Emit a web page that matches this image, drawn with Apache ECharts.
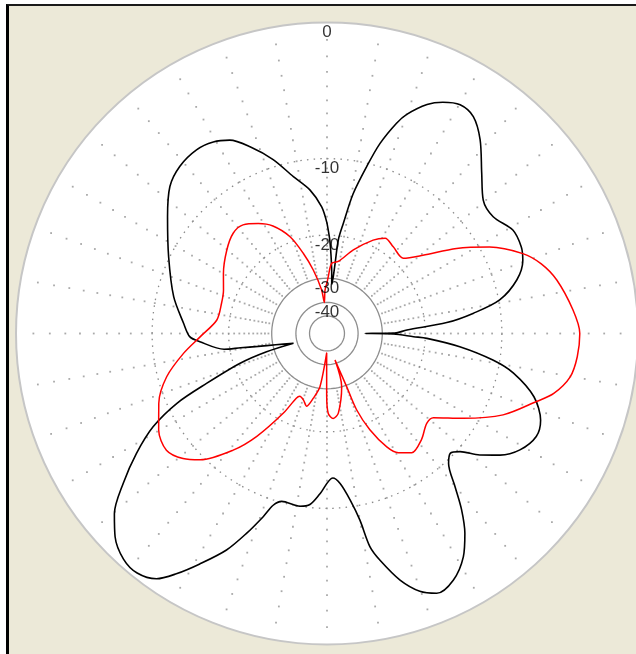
<!DOCTYPE html>
<html>
<head>
<meta charset="utf-8">
<script src="https://cdn.jsdelivr.net/npm/echarts@6/dist/echarts.min.js"></script>
<style>
  html, body { margin: 0; padding: 0; background: #fff; }
  #frame {
    position: absolute; left: 6px; top: 4px; width: 630px; height: 650px;
    box-sizing: border-box; border-left: 3px solid #000; border-top: 2px solid #1a1a1a;
    background: #ece9d8;
  }
  #chart { position: absolute; left: 0; top: 0; width: 636px; height: 654px; }
</style>
</head>
<body>
<div id="frame"></div>
<div id="chart"></div>
<script>
// pattern values in dB, angle in degrees (0 = top, clockwise)
const blackAngles = [0, 1.5, 2.5, 3.5, 4.5, 5.5, 6.3, 6.6, 6.9, 8.4, 10.6, 13.4, 15.6, 18.3, 20, 23.6, 26.6, 30.2, 34, 38.3,
  44, 49.5, 54.9, 60.9, 66, 69.5, 74.2, 79, 82.1, 84.8, 87.5, 89.7, 90, 90.4, 92.1, 92.8, 95.7, 99.1, 102, 107,
  112.1, 116.2, 121.1, 125.1, 128.5, 131.6, 134.2, 136.9, 140.1, 142.6, 145.4, 148.6, 152.9, 157.1, 160.2, 163.5, 166.8, 168.6, 170, 172.1,
  175, 177.7, 182.5, 185.7, 188.9, 195.1, 197.4, 199.2, 201.9, 204.9, 208.9, 212.1, 214.8, 218.4, 222, 226.2, 229.7, 233.7, 237.8, 241.8,
  245.1, 247.5, 251.1, 253.2, 253.8, 257.6, 259.4, 260.6, 261.3, 266.3, 268.7, 274.1, 283.5, 295.8, 306.1, 313.1, 318.6, 324.6, 329.3, 333.3,
  337.6, 342.8, 347.9, 353.2, 357.6]
const blackDb = [-18, -20.5, -22.8, -25.5, -28.5, -32, -29.4, -25.7, -20.7, -17.9, -13.6, -10.3, -7.9, -5.9, -5.0, -3.8, -3.2, -2.8, -3.0, -4.0,
  -5.8, -7.2, -7.4, -6.6, -6.6, -6.9, -7.9, -9.9, -12.9, -16.5, -23.6, -26.5, -36.5, -26.8, -22.2, -19.7, -14.7, -10.7, -8.5, -6.3,
  -5.2, -5.0, -5.6, -6.7, -8.1, -9.7, -10.3, -9.7, -7.7, -5.9, -4.3, -3.0, -2.0, -1.7, -2.2, -3.3, -5.0, -6.2, -8.6, -10.7,
  -12.6, -13.3, -11.5, -10.3, -10.0, -10.1, -9.5, -8.2, -6.4, -4.6, -2.9, -1.6, -0.7, -0.3, -0.4, -1.0, -1.9, -3.6, -5.6, -7.9,
  -11.0, -15.1, -21.2, -27.7, -38, -30.9, -25.9, -22, -19, -15.5, -14.2, -13.4, -11.8, -9.9, -7.9, -6.4, -5.8, -5.6, -5.8, -6.3,
  -7.5, -9.3, -11.5, -13.3, -15.6]

const redAngles = [0, 1.3, 3.8, 8.9, 17.5, 26.3, 31.4, 37.4, 45.4, 50.8, 56.7, 62, 67.8, 72, 76.9, 84.5, 90, 95.3, 100.1, 104.8,
  108, 114.8, 121.9, 128.3, 132, 138.4, 144.6, 149.1, 152.2, 156, 158.8, 159.7, 163.2, 164.6, 171.9, 175.8, 179.1, 180.3, 181, 187.5,
  191.9, 195.6, 199.6, 203.4, 205.4, 208.7, 214.3, 218.8, 225.1, 229, 234, 240.2, 247.5, 254.9, 262.2, 268.6, 277, 286, 292.8, 300,
  309.8, 316.9, 322.3, 328, 333.3, 339.1, 343.5, 347.8, 353, 355, 357.4]
const redDb = [-31.5, -29.5, -25.8, -25.2, -22.0, -19.0, -17.8, -18.2, -18.5, -16.0, -12.1, -9.1, -6.7, -5.6, -4.8, -4.0, -3.6, -3.7, -4.0, -4.9,
  -6.0, -8.2, -11.5, -14.4, -14.6, -13.6, -13.1, -14.0, -15.4, -18.8, -23.2, -29.6, -42, -30.0, -23.5, -22.5, -23.6, -28, -48, -30.6,
  -26.9, -24.6, -25.8, -26.3, -25.5, -21.4, -15.9, -12.7, -9.6, -8.5, -7.8, -8.2, -9.3, -10.9, -13.3, -15.6, -17.9, -18.1, -17.7, -16.6,
  -15.1, -14.2, -14.2, -15.2, -16.5, -19.1, -22.8, -27.2, -34, -40, -34.2]

const solidRings = [-50, -40, -30]
const dottedRings = [-20, -10]
const ringLabels = [0, -10, -20, -30, -40]
const spokeDb = [-29, -28, -27, -26, -25, -24, -23, -22, -21, -20, -19, -18, -17, -16, -15,
  -14, -13, -12, -11, -10, -9, -8, -7, -6, -5, -4, -3, -2, -1]
const spokeAngles = [0, 10, 20, 30, 40, 50, 60, 70, 80, 90, 100, 110, 120, 130, 140, 150, 160, 170,
  180, 190, 200, 210, 220, 230, 240, 250, 260, 270, 280, 290, 300, 310, 320, 330, 340, 350]

// radius scale: r grows with 10^(dB/40)
function toR(db) {
  return Math.pow(10, db / 40)
}

function pattern(angles, dbs) {
  const pts = angles.map((a, i) => [toR(dbs[i]), a])
  pts.push([toR(dbs[0]), angles[0] + 360])
  return pts
}

// angles used to trace the grid circles
const ringAngles = []
for (let a = 0; a <= 360; a += 2) ringAngles.push(a)

function ringSeries(db, lineStyle) {
  return {
    type: 'line',
    coordinateSystem: 'polar',
    silent: true,
    showSymbol: false,
    lineStyle,
    z: 1,
    data: ringAngles.map((a) => [toR(db), a])
  }
}

const spokeDots = []
spokeAngles.forEach((a) => spokeDb.forEach((db) => spokeDots.push([toR(db), a])))

const chart = echarts.init(document.getElementById('chart'))
chart.setOption({
  animation: false,
  polar: { center: [327, 333.5], radius: 311 },
  angleAxis: {
    type: 'value',
    min: 0,
    max: 360,
    interval: 10,
    startAngle: 90,
    clockwise: true,
    axisLine: { lineStyle: { color: '#c6c6c6', width: 2 } },
    axisTick: { show: false },
    axisLabel: { show: false },
    splitLine: { show: false },
    splitArea: { show: true, areaStyle: { color: ['#ffffff'] } }
  },
  radiusAxis: {
    type: 'value',
    min: 0,
    max: 1,
    axisLine: { show: false },
    axisTick: { show: false },
    axisLabel: { show: false },
    splitLine: { show: false }
  },
  series: [
    ...solidRings.map((db) => ringSeries(db, { color: '#8e8e8e', width: 1.3 })),
    ...dottedRings.map((db) => ringSeries(db, { color: '#8a8a8a', width: 1.3, type: [1.5, 5.2] })),
    {
      type: 'scatter',
      coordinateSystem: 'polar',
      silent: true,
      symbol: 'rect',
      symbolSize: 1.8,
      z: 1,
      itemStyle: { color: '#939393' },
      data: spokeDots
    },
    {
      type: 'line',
      coordinateSystem: 'polar',
      showSymbol: false,
      smooth: 0.3,
      lineStyle: { color: '#000', width: 1.6 },
      data: pattern(blackAngles, blackDb)
    },
    {
      type: 'line',
      coordinateSystem: 'polar',
      showSymbol: false,
      smooth: 0.3,
      lineStyle: { color: '#ff0000', width: 1.5 },
      data: pattern(redAngles, redDb)
    },
    {
      type: 'scatter',
      coordinateSystem: 'polar',
      silent: true,
      z: 10,
      symbolSize: 1,
      itemStyle: { color: 'transparent' },
      label: {
        show: true,
        position: 'bottom',
        distance: 1,
        color: '#000',
        fontSize: 17,
        fontFamily: 'Liberation Sans, Arial, sans-serif',
        formatter: (p) => String(ringLabels[p.dataIndex])
      },
      data: ringLabels.map((db) => [toR(db), 0])
    }
  ]
})
</script>
</body>
</html>
